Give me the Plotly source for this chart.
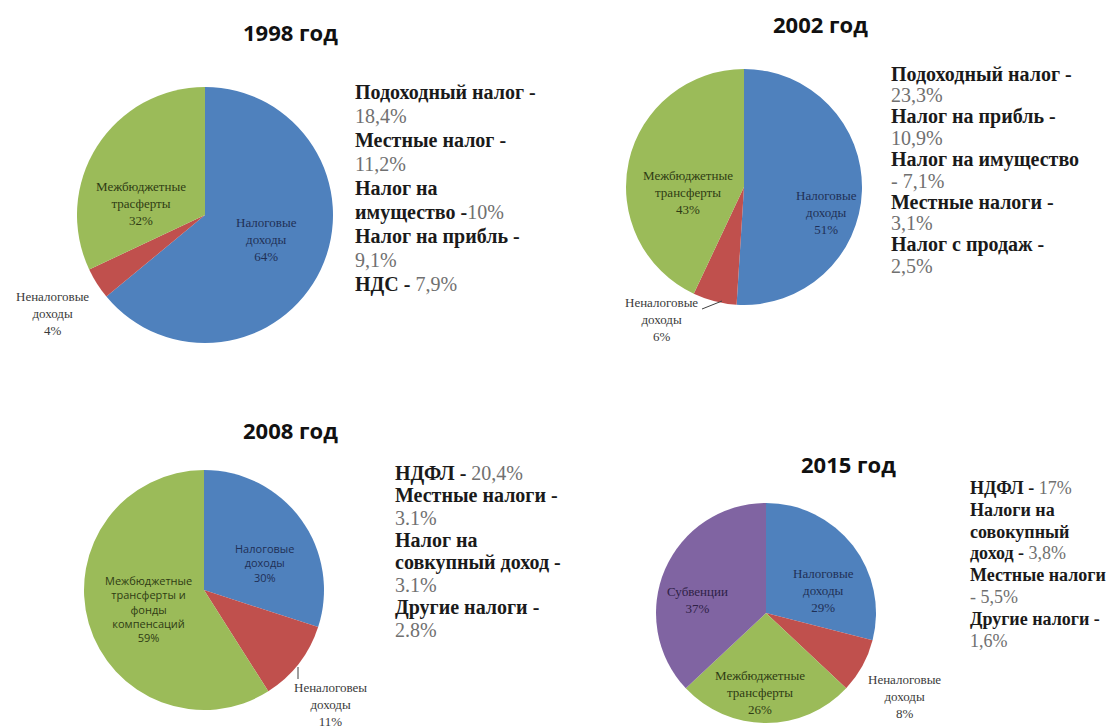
import plotly.graph_objects as go

W, H = 1116, 727
OFF = 8  # page body margin offset

# ---------------- data ----------------
years = ["1998 год", "2002 год", "2008 год", "2015 год"]

labels_1998 = ["Налоговые доходы", "Неналоговые доходы", "Межбюджетные трасферты"]
values_1998 = [64, 4, 32]

labels_2002 = ["Налоговые доходы", "Неналоговые доходы", "Межбюджетные трансферты"]
values_2002 = [51, 6, 43]

labels_2008 = ["Налоговые доходы", "Неналоговеы доходы", "Межбюджетные трансферты и фонды компенсаций"]
values_2008 = [30, 11, 59]

labels_2015 = ["Налоговые доходы", "Неналоговые доходы", "Межбюджетные трансферты", "Субвенции"]
values_2015 = [29, 8, 26, 37]

colors = ["#4F81BD", "#C0504D", "#9BBB59", "#8064A2"]

# text blocks on the right: (bold part, regular part) per line
notes_1998 = [("Подоходный налог -", ""), ("", "18,4%"), ("Местные налог -", ""), ("", "11,2%"),
              ("Налог на", ""), ("имущество -", "10%"), ("Налог на прибль -", ""), ("", "9,1%"),
              ("НДС - ", "7,9%")]
notes_2002 = [("Подоходный налог -", ""), ("", "23,3%"), ("Налог на прибль -", ""), ("", "10,9%"),
              ("Налог на имущество", ""), ("", "- 7,1%"), ("Местные налоги -", ""), ("", "3,1%"),
              ("Налог с продаж -", ""), ("", "2,5%")]
notes_2008 = [("НДФЛ - ", "20,4%"), ("Местные налоги -", ""), ("", "3.1%"), ("Налог на", ""),
              ("совкупный доход -", ""), ("", "3.1%"), ("Другие налоги -", ""), ("", "2.8%")]
notes_2015 = [("НДФЛ - ", "17%"), ("Налоги на", ""), ("совокупный", ""), ("доход - ", "3,8%"),
              ("Местные налоги", ""), ("", "- 5,5%"), ("Другие налоги -", ""), ("", "1,6%")]

# ---------------- layout helpers ----------------
def px(x):
    return (x - OFF) / W

def py(y):
    return 1 - (y - OFF) / H

# pie geometry in pixels: (cx, cy, r)
pies = [
    (labels_1998, values_1998, (205, 215, 128)),
    (labels_2002, values_2002, (744, 187, 118)),
    (labels_2008, values_2008, (204, 590, 120)),
    (labels_2015, values_2015, (766, 613, 110)),
]

fig = go.Figure()
for labs, vals, (cx, cy, r) in pies:
    fig.add_trace(go.Pie(
        labels=labs, values=vals, sort=False, direction="clockwise", rotation=0,
        marker=dict(colors=colors[:len(vals)], line=dict(width=0)),
        textinfo="none", hoverinfo="label+percent", showlegend=False,
        domain=dict(x=[px(cx - r), px(cx + r)], y=[py(cy + r), py(cy - r)]),
    ))

ann = []

# titles
title_pos = [(290, 32), (820, 24), (290, 430), (848, 464)]
for t, (x, y) in zip(years, title_pos):
    ann.append(dict(text=f"<b>{t}</b>", x=px(x), y=py(y), xref="paper", yref="paper",
                    showarrow=False, xanchor="center", yanchor="middle",
                    font=dict(family="Open Sans", size=22, color="#111111")))

SERIF = "Liberation Serif"
SANS = "Open Sans"

def slice_label(labs, vals, idx, x, y, family, color, breaks=None, size=13):
    name = breaks if breaks is not None else labs[idx].replace(" ", "<br>")
    txt = f"{name}<br>{vals[idx]}%"
    ann.append(dict(text=txt, x=px(x), y=py(y), xref="paper", yref="paper", showarrow=False,
                    align="center", xanchor="center", yanchor="middle",
                    font=dict(family=family, size=size, color=color)))

# 1998
slice_label(labels_1998, values_1998, 0, 266, 240, SERIF, "#1F3056")
slice_label(labels_1998, values_1998, 1, 52, 313, SERIF, "#3A3A3A")
slice_label(labels_1998, values_1998, 2, 141, 203, SERIF, "#2F3B14")
# 2002
slice_label(labels_2002, values_2002, 0, 826, 212, SERIF, "#1F3056")
slice_label(labels_2002, values_2002, 1, 661, 319, SERIF, "#3A3A3A")
slice_label(labels_2002, values_2002, 2, 688, 192, SERIF, "#2F3B14")
# 2008
slice_label(labels_2008, values_2008, 0, 264, 563, SANS, "#1F3056", size=11)
slice_label(labels_2008, values_2008, 1, 330, 704, SERIF, "#3A3A3A")
slice_label(labels_2008, values_2008, 2, 148, 609, SANS, "#2F3B14",
            breaks="Межбюджетные<br>трансферты и<br>фонды<br>компенсаций", size=11)
# 2015
slice_label(labels_2015, values_2015, 0, 823, 590, SERIF, "#1F3056")
slice_label(labels_2015, values_2015, 1, 904, 696, SERIF, "#3A3A3A")
slice_label(labels_2015, values_2015, 2, 760, 692, SERIF, "#2F3B14")
slice_label(labels_2015, values_2015, 3, 697, 600, SERIF, "#2E2146")

# note blocks: lines, x, first y, line step, font size
blocks = [(notes_1998, 353, 92, 24.0, 20), (notes_2002, 889, 74, 21.3, 20),
          (notes_2008, 393, 473, 22.4, 20), (notes_2015, 968, 488, 21.8, 18)]
for lines, x0, y0, dy, fs in blocks:
    for i, (b, rtxt) in enumerate(lines):
        parts = ""
        if b:
            parts += f"<b>{b}</b>"
        if rtxt:
            parts += f"<span style='color:#707070'>{rtxt}</span>"
        ann.append(dict(text=parts, x=px(x0), y=py(y0 + i * dy), xref="paper", yref="paper",
                        showarrow=False, xanchor="left", yanchor="middle",
                        font=dict(family=SERIF, size=fs, color="#1A1A1A")))

# leader lines for small outside labels
shapes = [
    dict(type="line", xref="paper", yref="paper", x0=px(702), y0=py(309), x1=px(722), y1=py(301),
         line=dict(color="#404040", width=1)),
    dict(type="line", xref="paper", yref="paper", x0=px(298), y0=py(667), x1=px(298), y1=py(679),
         line=dict(color="#404040", width=1)),
]

fig.update_layout(width=W, height=H, margin=dict(l=0, r=0, t=0, b=0),
                  paper_bgcolor="white", plot_bgcolor="white",
                  annotations=ann, shapes=shapes)

fig.write_html("out.html")
